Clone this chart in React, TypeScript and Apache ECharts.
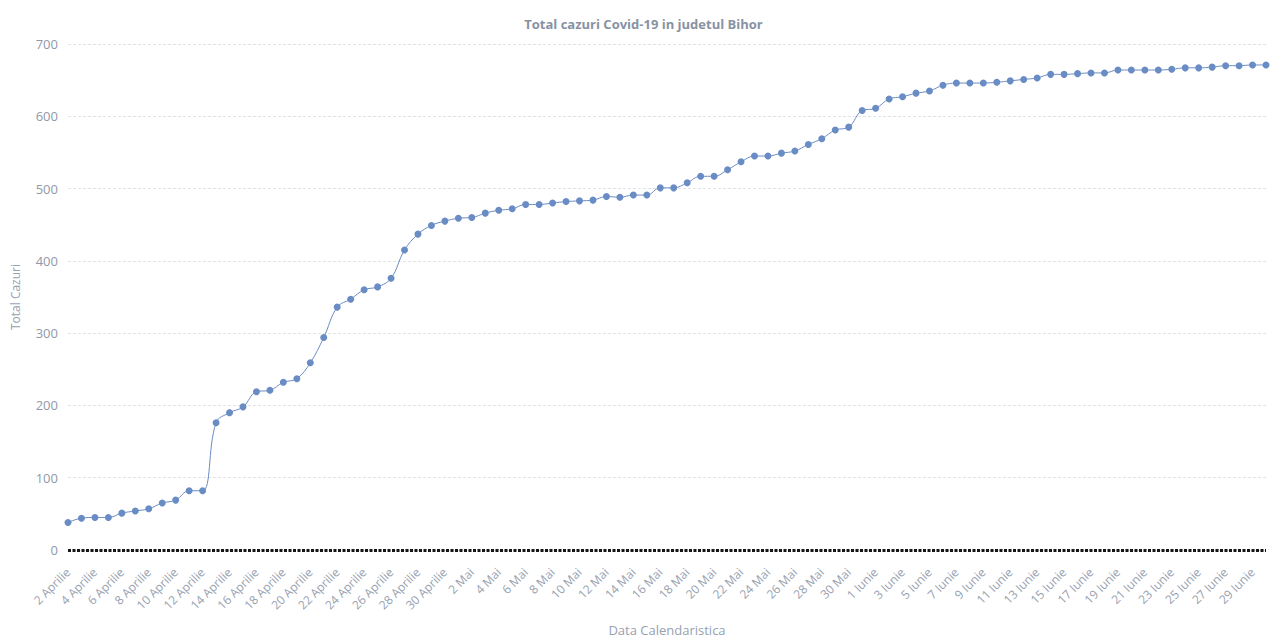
import React, { useEffect, useRef } from "react";
import * as echarts from "echarts";

const monthsRo = ["Aprilie", "Mai", "Iunie"];
const monthStart = [2, 1, 1];
const monthEnd = [30, 31, 30];

const categories: string[] = [];
for (let m = 0; m < monthsRo.length; m++) {
  for (let d = monthStart[m]; d <= monthEnd[m]; d++) {
    categories.push(d + " " + monthsRo[m]);
  }
}

const totalCases = [
  38, 44, 45, 45, 51, 54, 57, 65, 69, 82, 82,
  176, 190, 198, 219, 221, 232, 237, 259, 294, 336,
  347, 360, 364, 376, 415, 437, 449, 455, 459, 460,
  466, 470, 472, 478, 478, 480, 482, 483, 484, 489,
  488, 491, 491, 501, 501, 508, 517, 517, 526, 537,
  545, 545, 549, 552, 561, 569, 581, 585, 608, 611,
  624, 627, 632, 635, 643, 646, 646, 646, 647, 649,
  651, 653, 658, 658, 659, 660, 660, 664, 664, 664,
  664, 665, 667, 667, 668, 670, 670, 671, 671,
];

const yTicks = { min: 0, max: 700, interval: 100 };

const FONT = "'Open Sans', 'Noto Sans', sans-serif";
const LABEL = "#97a1b0";
const YLABEL = "#8f99a8";

export default function App() {
  const ref = useRef<HTMLDivElement>(null);
  useEffect(() => {
    if (!ref.current) return;
    const chart = echarts.init(ref.current, undefined, { renderer: "svg" });
    chart.setOption({
      animation: false,
      textStyle: { fontFamily: FONT },
      title: {
        text: "Total cazuri Covid-19 in judetul Bihor",
        left: "center",
        top: 12,
        textStyle: { fontSize: 13, fontWeight: "bold", color: "#8792a3", fontFamily: FONT },
      },
      grid: { left: 68, right: 21, top: 44, bottom: 84, containLabel: false },
      xAxis: {
        type: "category",
        data: categories,
        boundaryGap: false,
        name: "Data Calendaristica",
        nameLocation: "middle",
        nameGap: 73,
        nameTextStyle: { color: LABEL, fontSize: 13, fontFamily: FONT },
        axisLine: {
          show: true,
          lineStyle: { color: "#151515", type: [3, 1.5], width: 3, cap: "butt" },
        },
        axisTick: { show: false },
        axisLabel: {
          interval: 1,
          rotate: 45,
          color: LABEL,
          fontSize: 12,
          fontFamily: FONT,
          margin: 20,
        },
        splitLine: { show: false },
      },
      yAxis: {
        type: "value",
        min: yTicks.min,
        max: yTicks.max,
        interval: yTicks.interval,
        name: "Total Cazuri",
        nameLocation: "middle",
        nameGap: 47,
        nameTextStyle: { color: LABEL, fontSize: 12, fontFamily: FONT },
        axisLine: { show: false },
        axisTick: { show: false },
        axisLabel: { color: YLABEL, fontSize: 13, fontFamily: FONT, margin: 10 },
        splitLine: { show: true, lineStyle: { color: "#dfe2e6", type: [3, 2], width: 1 } },
      },
      series: [
        {
          type: "line",
          data: totalCases,
          smooth: 0.4,
          symbol: "circle",
          symbolSize: 7,
          showSymbol: true,
          lineStyle: { color: "#6a8cc4", width: 1 },
          itemStyle: { color: "#6a8cc4" },
        },
      ],
    });
    return () => chart.dispose();
  }, []);
  return (
    <div
      ref={ref}
      style={{ position: "fixed", left: 0, top: 0, width: 1287, height: 641, background: "#fff" }}
    />
  );
}
